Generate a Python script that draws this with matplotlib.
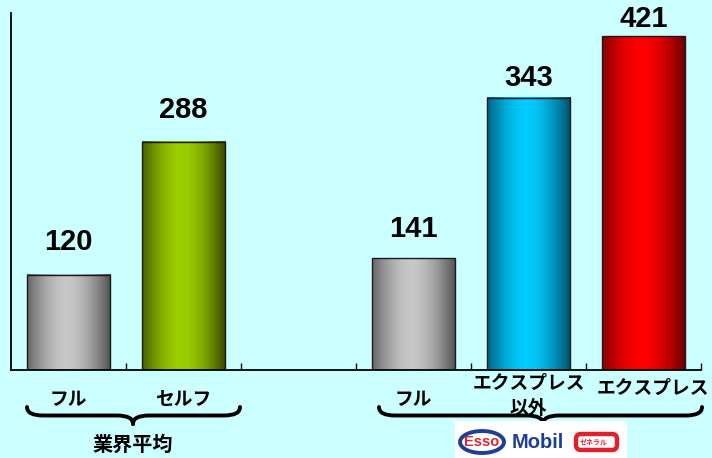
import numpy as np
import matplotlib
matplotlib.use("Agg")
import matplotlib.pyplot as plt
from matplotlib.colors import to_rgb
from matplotlib.patches import Rectangle, Ellipse, FancyBboxPatch, PathPatch
from matplotlib.path import Path
import matplotlib.transforms as mtransforms

# data
categories = ["フル", "セルフ", "", "フル", "エクスプレス\n以外", "エクスプレス"]
values = [120, 288, None, 141, 343, 421]
dark_colors = ["#505050", "#374500", None, "#505050", "#004c66", "#680000"]
light_colors = ["#c8c8c8", "#9ccf00", None, "#c8c8c8", "#00ccff", "#ff0000"]
group_labels = ["業界平均"]

# label offset above each bar top (points); the tall bars keep theirs tight
label_offsets = [18, 17, None, 15, 8.5, 6.5]

BG = "#ccffff"
JP = ["Noto Sans CJK JP", "DejaVu Sans"]
NUM = ["Liberation Sans", "DejaVu Sans"]

W, H = 712, 458
fig = plt.figure(figsize=(W / 100, H / 100), dpi=100, facecolor=BG)
ax = fig.add_axes([11 / W, (H - 370) / H, 690 / W, 357 / H])
ax.set_facecolor(BG)

bar_w = 0.73

# horizontal shading profile across each bar: dark edges, bright middle
t = np.linspace(0, 1, 200)
prof = np.clip(1 - np.abs((t - 0.47) / 0.53) ** 1.7, 0, 1)

for i, v in enumerate(values):
    if v is None:
        continue
    d = np.array(to_rgb(dark_colors[i]))
    l = np.array(to_rgb(light_colors[i]))
    img = (d[None, :] + (l - d)[None, :] * prof[:, None])[None, :, :]
    x0 = i - bar_w / 2
    ax.imshow(img, extent=[x0, x0 + bar_w, 0, v], aspect="auto",
              interpolation="bilinear", zorder=2)
    ax.add_patch(Rectangle((x0, 0), bar_w, v, fill=False,
                           edgecolor="#1a1a1a", linewidth=1.0, zorder=3))
    ax.annotate(f"{v}", (i, v), xytext=(0, label_offsets[i]),
                textcoords="offset points", ha="center", va="baseline",
                fontsize=21, fontweight="bold", family=NUM, color="black",
                zorder=4)

ax.set_xlim(-0.5, len(categories) - 0.5)
ax.set_ylim(0, 450)
ax.set_aspect("auto")

for s in ["top", "right"]:
    ax.spines[s].set_visible(False)
ax.spines["left"].set_linewidth(1.3)
ax.spines["bottom"].set_linewidth(1.3)
ax.set_yticks([])
ax.set_xticks(np.arange(0.5, len(categories) - 0.4, 1.0))
ax.set_xticklabels([])
ax.tick_params(axis="x", direction="in", length=5, width=1.0)

# overlay in pixel coordinates for labels, braces and logos
ov = fig.add_axes([0, 0, 1, 1], facecolor="none")
ov.set_xlim(0, W)
ov.set_ylim(H, 0)
ov.axis("off")
blend = mtransforms.blended_transform_factory(ax.transData, ov.transData)

label_y = [400, 400, None, 400, 396, 388]
label_dx = [0, 0, 0, 0, 0, 0.08]
for i, (c, y) in enumerate(zip(categories, label_y)):
    if not c:
        continue
    ov.text(i + label_dx[i], y, c, transform=blend, ha="center",
            va="center", fontsize=13.5, fontweight="bold", family=JP,
            linespacing=1.4)


def brace(x0, x1, xm, ytop, ybot, lw=2.8):
    r = 8
    ymid = (ytop + ybot) / 2
    for xe, sgn in ((x0, 1), (x1, -1)):
        p = Path([(xe, ytop), (xe, ymid), (xe + sgn * r * 2, ymid),
                  (xm - sgn * r * 2, ymid), (xm, ymid), (xm, ybot)],
                 [Path.MOVETO, Path.CURVE3, Path.CURVE3,
                  Path.LINETO, Path.CURVE3, Path.CURVE3])
        ov.add_patch(PathPatch(p, fill=False, edgecolor="black",
                               linewidth=lw, capstyle="round",
                               joinstyle="round"))


brace(27, 240, 133, 407, 424)
brace(379, 702, 543, 407, 424)

ov.text(133, 444, group_labels[0], ha="center", va="center", fontsize=14.5,
        fontweight="bold", family=JP)

# brand logos
ov.add_patch(Rectangle((455, 421), 172, 37, facecolor="white",
                       edgecolor="none"))
ov.add_patch(Ellipse((482, 442), 44, 22, facecolor="white",
                     edgecolor="#1d3f9a", linewidth=2.8))
ov.text(482, 442.5, "Esso", ha="center", va="center", fontsize=10.5,
        fontweight="bold", family=NUM, color="#d8262e")
ov.text(538, 442, "Mobil", ha="center", va="center", fontsize=14.5,
        fontweight="bold", family=NUM, color="#1d3f9a")

ov.add_patch(FancyBboxPatch((576, 434), 41, 16,
                            boxstyle="round,pad=0,rounding_size=5",
                            facecolor="white", edgecolor="#e0202a",
                            linewidth=3.2))
ov.text(594, 442, "ゼネラル", ha="center", va="center", fontsize=5,
        fontweight="bold", family=JP, color="#e0202a")

fig.savefig("out.png", dpi=100, facecolor=BG)
